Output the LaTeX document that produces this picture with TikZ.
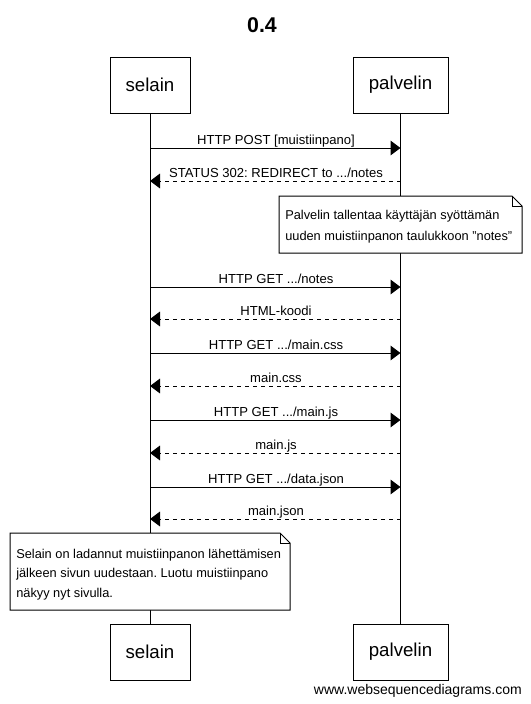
\documentclass[tikz,border=0pt]{standalone}
\usepackage{fontspec}
\setmainfont{Liberation Sans}
\usetikzlibrary{arrows.meta}
\frenchspacing
\begin{document}
\begin{tikzpicture}[x=0.75pt,y=-0.75pt,
  participant/.style={draw,line width=0.75pt,minimum height=42pt,inner sep=0pt,font=\fontsize{14}{16}\selectfont},
  msg/.style={line width=0.75pt,-{Triangle[length=7.5pt,width=11pt]}},
  reply/.style={msg,dash pattern=on 3pt off 3pt},
  lbl/.style={font=\fontsize{9.8}{12}\selectfont,inner sep=0pt,anchor=base},
  notetext/.style={font=\fontsize{9.6}{12}\selectfont,anchor=base west,inner sep=0pt},
  notebox/.style={draw,line width=0.75pt,fill=white},
  life/.style={line width=0.75pt}]
\useasboundingbox (0,0) rectangle (531,704);
\node[font=\bfseries\fontsize{16}{18}\selectfont] (title) at (262,25.5) {0.4};
\node[participant,minimum width=60pt] (s1) at (150,85) {selain};
\node[participant,minimum width=71.25pt] (p1) at (400.5,85) {palvelin};
\node[participant,minimum width=60pt] (s2) at (150,652) {selain};
\node[participant,minimum width=71.25pt] (p2) at (400.5,652) {palvelin};
\draw[life] (s1.south) -- (s2.north);
\draw[life] (p1.south) -- (p2.north);
% message coordinates
\foreach \n/\yy in {1/148,2/181,3/287,4/319,5/353,6/386,7/420,8/453,9/487,10/519}{
  \coordinate (sa\n) at (150,\yy);
  \coordinate (pa\n) at (400.5,\yy);
}
\draw[msg] (sa1) -- (pa1);
\node[lbl] (l1) at (276,144) {HTTP POST [muistiinpano]};
\draw[reply] (pa2) -- (sa2);
\node[lbl] (l2) at (276,177) {STATUS 302: REDIRECT to .../notes};
% note 1
\draw[notebox] (279,196) -- (512,196) -- (522,206) -- (522,253) -- (279,253) -- cycle;
\draw[line width=0.75pt] (512,196) -- (512,206) -- (522,206);
\node[notetext] (n1a) at (285,219.5) {Palvelin tallentaa käyttäjän syöttämän};
\node[notetext] (n1b) at (285,240) {uuden muistiinpanon taulukkoon \symbol{34}notes\symbol{34}};
\draw[msg] (sa3) -- (pa3);
\node[lbl] (l3) at (276,283) {HTTP GET .../notes};
\draw[reply] (pa4) -- (sa4);
\node[lbl] (l4) at (276,315.5) {HTML-koodi};
\draw[msg] (sa5) -- (pa5);
\node[lbl] (l5) at (276,349) {HTTP GET .../main.css};
\draw[reply] (pa6) -- (sa6);
\node[lbl] (l6) at (276,382.5) {main.css};
\draw[msg] (sa7) -- (pa7);
\node[lbl] (l7) at (276,416) {HTTP GET .../main.js};
\draw[reply] (pa8) -- (sa8);
\node[lbl] (l8) at (276,449.5) {main.js};
\draw[msg] (sa9) -- (pa9);
\node[lbl] (l9) at (276,483) {HTTP GET .../data.json};
\draw[reply] (pa10) -- (sa10);
\node[lbl] (l10) at (276,515.5) {main.json};
% note 2
\draw[notebox] (10,533) -- (280,533) -- (290,543) -- (290,610) -- (10,610) -- cycle;
\draw[line width=0.75pt] (280,533) -- (280,543) -- (290,543);
\node[notetext] (n2a) at (16,558.3) {Selain on ladannut muistiinpanon lähettämisen};
\node[notetext] (n2b) at (16,577.7) {jälkeen sivun uudestaan. Luotu muistiinpano};
\node[notetext] (n2c) at (16,597) {näkyy nyt sivulla.};
\node[font=\fontsize{10.5}{12}\selectfont,anchor=base east,inner sep=0pt] (wm) at (522,694) {www.websequencediagrams.com};
\end{tikzpicture}
\end{document}
